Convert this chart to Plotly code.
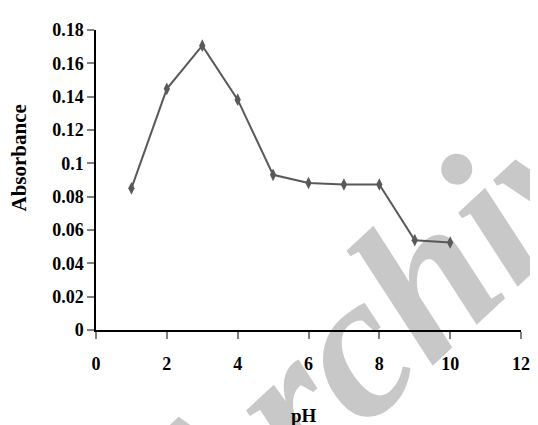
import plotly.graph_objects as go

# data
ph = [1, 2, 3, 4, 5, 6, 7, 8, 9, 10]
absorbance = [0.085, 0.1447, 0.1706, 0.1382, 0.0931, 0.0882, 0.0873, 0.0873, 0.0539, 0.0525]

x_ticks = [0, 2, 4, 6, 8, 10, 12]
y_ticks = [0, 0.02, 0.04, 0.06, 0.08, 0.1, 0.12, 0.14, 0.16, 0.18]
y_labels = ['0', '0.02', '0.04', '0.06', '0.08', '0.1', '0.12', '0.14', '0.16', '0.18']

line_col = '#595959'
serif = 'Liberation Serif'

fig = go.Figure()

fig.add_trace(go.Scatter(
    x=ph,
    y=absorbance,
    mode='lines+markers',
    line=dict(color=line_col, width=2),
    marker=dict(symbol='diamond-tall', size=9, color=line_col),
    showlegend=False,
))

# grey "Archive" watermark, kept under the data
fig.add_shape(
    type='rect', xref='paper', yref='paper',
    x0=0.628, x1=0.728, y0=0.097, y1=0.197,
    line=dict(width=0), fillcolor='rgba(0,0,0,0)',
    layer='below',
    label=dict(
        text='Archive',
        textangle=-43,
        textposition='middle center',
        font=dict(family=serif, size=206, color='#c8c8c8', weight='bold', style='italic'),
    ),
)

axis_common = dict(
    showgrid=False,
    zeroline=False,
    showline=True,
    linecolor='black',
    linewidth=1.5,
    ticks='outside',
    ticklen=7,
    tickwidth=1.5,
    tickcolor='#808080',
    tickfont=dict(family=serif, size=18, color='black', weight='bold'),
)

fig.update_xaxes(range=[0, 12], tickvals=x_ticks, ticklabelstandoff=10, **axis_common)
fig.update_yaxes(range=[0, 0.18], tickvals=y_ticks, ticktext=y_labels, ticklabelstandoff=0, **axis_common)

fig.add_annotation(
    text='Absorbance', xref='paper', yref='paper', x=-0.181, y=0.572,
    xanchor='center', yanchor='middle', textangle=-90, showarrow=False,
    font=dict(family=serif, size=21, color='black', weight='bold'),
)
fig.add_annotation(
    text='pH', xref='paper', yref='paper', x=0.49, y=-0.284,
    xanchor='center', yanchor='middle', showarrow=False,
    font=dict(family=serif, size=19, color='black', weight='bold'),
)

# page body adds an 8px offset, so margins are shifted to compensate
fig.update_layout(
    width=538,
    height=425,
    margin=dict(l=88, r=25, t=16, b=103),
    plot_bgcolor='white',
    paper_bgcolor='white',
)

fig.write_html("out.html")
